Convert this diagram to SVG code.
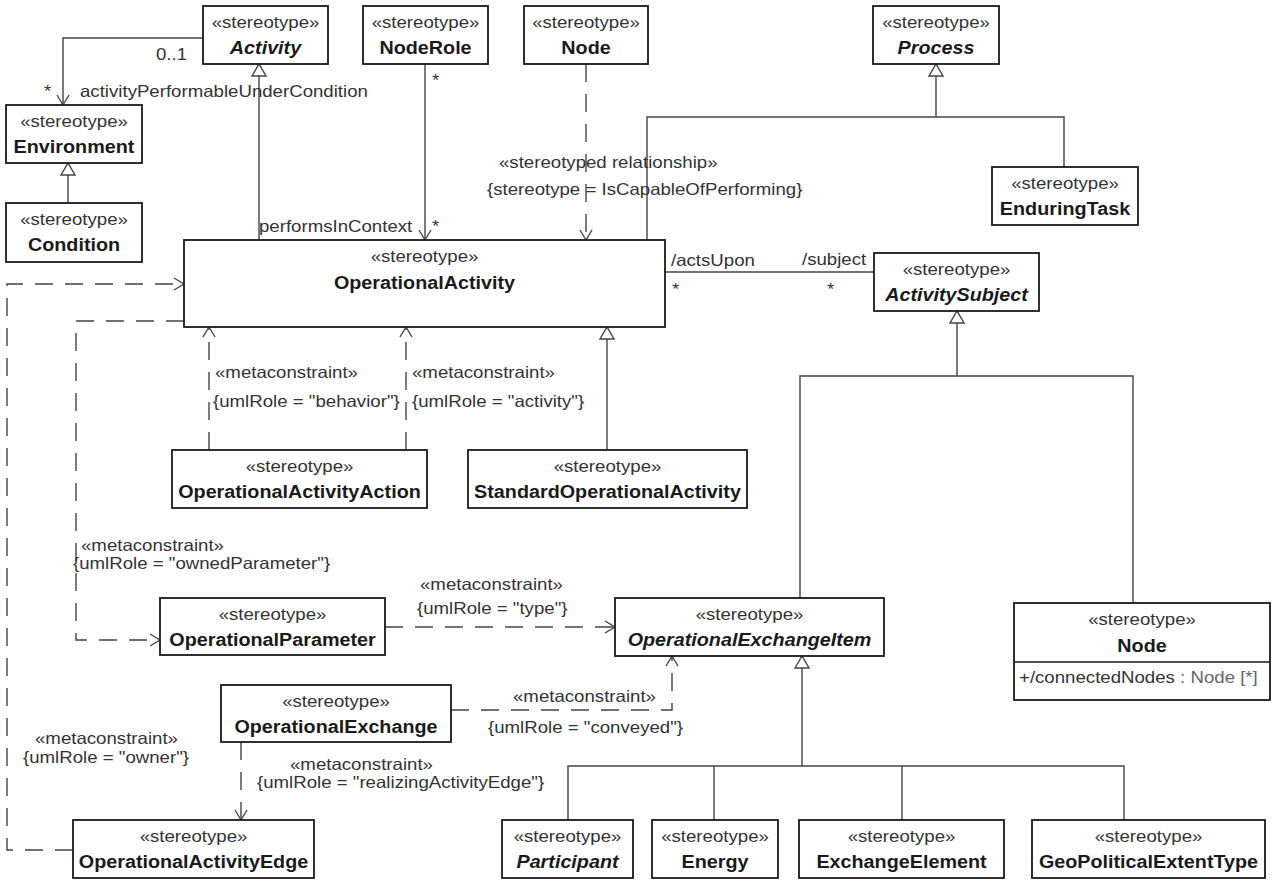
<svg xmlns="http://www.w3.org/2000/svg" width="1273" height="880" viewBox="0 0 1273 880">
<style>
.box{fill:#fff;stroke:#1a1a1a;stroke-width:1.8}
.ln{fill:none;stroke:#444;stroke-width:1.4}
.dash{stroke-dasharray:18 12}
.st{font-family:"Liberation Sans",Arial,sans-serif;font-size:16.5px;fill:#333;text-anchor:middle}
.nm{font-family:"Liberation Sans",Arial,sans-serif;font-size:17.5px;font-weight:bold;fill:#1a1a1a;text-anchor:middle}
.it{font-style:italic}
.lb{font-family:"Liberation Sans",Arial,sans-serif;font-size:16.5px;fill:#333}
.ty{fill:#666}
</style>
<defs>
<marker id="open" markerUnits="userSpaceOnUse" markerWidth="14" markerHeight="14" refX="11" refY="7" orient="auto"><path d="M1,1 L11,7 L1,13" fill="none" stroke="#444" stroke-width="1.4"/></marker>
<marker id="tri" markerUnits="userSpaceOnUse" markerWidth="16" markerHeight="18" refX="14" refY="8" orient="auto"><path d="M2,1 L14,8 L2,15 Z" fill="#fff" stroke="#444" stroke-width="1.4"/></marker>
</defs>
<rect width="1273" height="880" fill="#fff"/>

<g id="connectors">
<path class="ln" d="M203,38 H63 V105" marker-end="url(#open)"/>
<path class="ln" d="M68,203 V163" marker-end="url(#tri)"/>
<path class="ln" d="M259,240 V64" marker-end="url(#tri)"/>
<path class="ln" d="M425,64 V240" marker-end="url(#open)"/>
<path class="ln dash" d="M586,64 V240" marker-end="url(#open)"/>
<path class="ln" d="M647,240 V117 H1064 V167"/>
<path class="ln" d="M936,117 V64" marker-end="url(#tri)"/>
<path class="ln" d="M665,272 H874"/>
<path class="ln" d="M800,598 V376 H1133 V603"/>
<path class="ln" d="M957,376 V311" marker-end="url(#tri)"/>
<path class="ln dash" d="M209,450 V327" marker-end="url(#open)"/>
<path class="ln dash" d="M406,450 V327" marker-end="url(#open)"/>
<path class="ln" d="M607,450 V327" marker-end="url(#tri)"/>
<path class="ln dash" d="M184,321 H76 V640 H160" marker-end="url(#open)"/>
<path class="ln dash" d="M73,850 H7 V284 H184" marker-end="url(#open)"/>
<path class="ln dash" d="M385,627 H615" marker-end="url(#open)"/>
<path class="ln dash" d="M451,710 H672 V656" marker-end="url(#open)"/>
<path class="ln dash" d="M241,742 V820" marker-end="url(#open)"/>
<path class="ln" d="M802,766 V656" marker-end="url(#tri)"/>
<path class="ln" d="M568,820 V766 H1124 V820 M714,766 V820 M902,766 V820"/>

<text class="lb" transform="translate(156,60) scale(1.13,1)">0..1</text>
<text class="lb" transform="translate(44,97) scale(1.13,1)">*</text>
<text class="lb" transform="translate(80,97) scale(1.13,1)">activityPerformableUnderCondition</text>
<text class="lb" transform="translate(259,232) scale(1.13,1)">performsInContext</text>
<text class="lb" transform="translate(432,232) scale(1.13,1)">*</text>
<text class="lb" transform="translate(432,86) scale(1.13,1)">*</text>
<text class="lb" transform="translate(499,168) scale(1.13,1)">«stereotyped relationship»</text>
<text class="lb" transform="translate(487,195) scale(1.13,1)">{stereotype = IsCapableOfPerforming}</text>
<text class="lb" transform="translate(671,266) scale(1.13,1)">/actsUpon</text>
<text class="lb" transform="translate(672,295) scale(1.13,1)">*</text>
<text class="lb" transform="translate(802,265) scale(1.13,1)">/subject</text>
<text class="lb" transform="translate(827,295) scale(1.13,1)">*</text>
<text class="lb" transform="translate(215,378) scale(1.13,1)">«metaconstraint»</text>
<text class="lb" transform="translate(213,407) scale(1.13,1)">{umlRole = "behavior"}</text>
<text class="lb" transform="translate(412,378) scale(1.13,1)">«metaconstraint»</text>
<text class="lb" transform="translate(412,407) scale(1.13,1)">{umlRole = "activity"}</text>
<text class="lb" transform="translate(81,551) scale(1.13,1)">«metaconstraint»</text>
<text class="lb" transform="translate(73,569) scale(1.13,1)">{umlRole = "ownedParameter"}</text>
<text class="lb" transform="translate(420,590) scale(1.13,1)">«metaconstraint»</text>
<text class="lb" transform="translate(417,614) scale(1.13,1)">{umlRole = "type"}</text>
<text class="lb" transform="translate(513,702) scale(1.13,1)">«metaconstraint»</text>
<text class="lb" transform="translate(488,733) scale(1.13,1)">{umlRole = "conveyed"}</text>
<text class="lb" transform="translate(290,770) scale(1.13,1)">«metaconstraint»</text>
<text class="lb" transform="translate(257,788) scale(1.13,1)">{umlRole = "realizingActivityEdge"}</text>
<text class="lb" transform="translate(35,744) scale(1.13,1)">«metaconstraint»</text>
<text class="lb" transform="translate(23,763) scale(1.13,1)">{umlRole = "owner"}</text>
</g>

<g id="activity"><rect class="box" x="203" y="6" width="125" height="58"/>
<text class="st" transform="translate(265.5,28) scale(1.13,1)">«stereotype»</text>
<text class="nm it" transform="translate(265.5,54) scale(1.13,1)">Activity</text></g>

<g id="noderole"><rect class="box" x="363" y="6" width="125" height="58"/>
<text class="st" transform="translate(425.5,28) scale(1.13,1)">«stereotype»</text>
<text class="nm" transform="translate(425.5,54) scale(1.13,1)">NodeRole</text></g>

<g id="node-top"><rect class="box" x="524" y="6" width="124" height="58"/>
<text class="st" transform="translate(586,28) scale(1.13,1)">«stereotype»</text>
<text class="nm" transform="translate(586,54) scale(1.13,1)">Node</text></g>

<g id="process"><rect class="box" x="873" y="6" width="126" height="58"/>
<text class="st" transform="translate(936,28) scale(1.13,1)">«stereotype»</text>
<text class="nm it" transform="translate(936,54) scale(1.13,1)">Process</text></g>

<g id="environment"><rect class="box" x="6" y="105" width="136" height="58"/>
<text class="st" transform="translate(74,127) scale(1.13,1)">«stereotype»</text>
<text class="nm" transform="translate(74,153) scale(1.13,1)">Environment</text></g>

<g id="condition"><rect class="box" x="6" y="203" width="136" height="59"/>
<text class="st" transform="translate(74,225) scale(1.13,1)">«stereotype»</text>
<text class="nm" transform="translate(74,251) scale(1.13,1)">Condition</text></g>

<g id="enduringtask"><rect class="box" x="992" y="167" width="146" height="58"/>
<text class="st" transform="translate(1065,189) scale(1.13,1)">«stereotype»</text>
<text class="nm" transform="translate(1065,215) scale(1.13,1)">EnduringTask</text></g>

<g id="operationalactivity"><rect class="box" x="184" y="240" width="481" height="87"/>
<text class="st" transform="translate(424.5,262) scale(1.13,1)">«stereotype»</text>
<text class="nm" transform="translate(424.5,289) scale(1.13,1)">OperationalActivity</text></g>

<g id="activitysubject"><rect class="box" x="874" y="253" width="165" height="58"/>
<text class="st" transform="translate(956.5,275) scale(1.13,1)">«stereotype»</text>
<text class="nm it" transform="translate(956.5,301) scale(1.13,1)">ActivitySubject</text></g>

<g id="operationalactivityaction"><rect class="box" x="172" y="450" width="255" height="58"/>
<text class="st" transform="translate(299.5,472) scale(1.13,1)">«stereotype»</text>
<text class="nm" transform="translate(299.5,498) scale(1.13,1)">OperationalActivityAction</text></g>

<g id="standardoperationalactivity"><rect class="box" x="468" y="450" width="279" height="58"/>
<text class="st" transform="translate(607.5,472) scale(1.13,1)">«stereotype»</text>
<text class="nm" transform="translate(607.5,498) scale(1.13,1)">StandardOperationalActivity</text></g>

<g id="operationalparameter"><rect class="box" x="160" y="598" width="225" height="57"/>
<text class="st" transform="translate(272.5,620) scale(1.13,1)">«stereotype»</text>
<text class="nm" transform="translate(272.5,646) scale(1.13,1)">OperationalParameter</text></g>

<g id="operationalexchangeitem"><rect class="box" x="615" y="598" width="269" height="58"/>
<text class="st" transform="translate(749.5,620) scale(1.13,1)">«stereotype»</text>
<text class="nm it" transform="translate(749.5,646) scale(1.13,1)">OperationalExchangeItem</text></g>

<g id="node-right"><rect class="box" x="1014" y="603" width="256" height="97"/>
<line x1="1014" y1="662" x2="1270" y2="662" stroke="#1a1a1a" stroke-width="1.4"/>
<text class="st" transform="translate(1142,625) scale(1.13,1)">«stereotype»</text>
<text class="nm" transform="translate(1142,652) scale(1.13,1)">Node</text>
<text class="lb" transform="translate(1019,683) scale(1.13,1)">+/connectedNodes<tspan class="ty"> : Node [*]</tspan></text></g>

<g id="operationalexchange"><rect class="box" x="221" y="685" width="230" height="57"/>
<text class="st" transform="translate(336,707) scale(1.13,1)">«stereotype»</text>
<text class="nm" transform="translate(336,733) scale(1.13,1)">OperationalExchange</text></g>

<g id="operationalactivityedge"><rect class="box" x="73" y="820" width="241" height="58"/>
<text class="st" transform="translate(193.5,842) scale(1.13,1)">«stereotype»</text>
<text class="nm" transform="translate(193.5,868) scale(1.13,1)">OperationalActivityEdge</text></g>

<g id="participant"><rect class="box" x="502" y="820" width="131" height="58"/>
<text class="st" transform="translate(567.5,842) scale(1.13,1)">«stereotype»</text>
<text class="nm it" transform="translate(567.5,868) scale(1.13,1)">Participant</text></g>

<g id="energy"><rect class="box" x="652" y="820" width="126" height="58"/>
<text class="st" transform="translate(715,842) scale(1.13,1)">«stereotype»</text>
<text class="nm" transform="translate(715,868) scale(1.13,1)">Energy</text></g>

<g id="exchangeelement"><rect class="box" x="799" y="820" width="205" height="58"/>
<text class="st" transform="translate(901.5,842) scale(1.13,1)">«stereotype»</text>
<text class="nm" transform="translate(901.5,868) scale(1.13,1)">ExchangeElement</text></g>

<g id="geopoliticalextenttype"><rect class="box" x="1032" y="820" width="233" height="58"/>
<text class="st" transform="translate(1148.5,842) scale(1.13,1)">«stereotype»</text>
<text class="nm" transform="translate(1148.5,868) scale(1.13,1)">GeoPoliticalExtentType</text></g>
</svg>
